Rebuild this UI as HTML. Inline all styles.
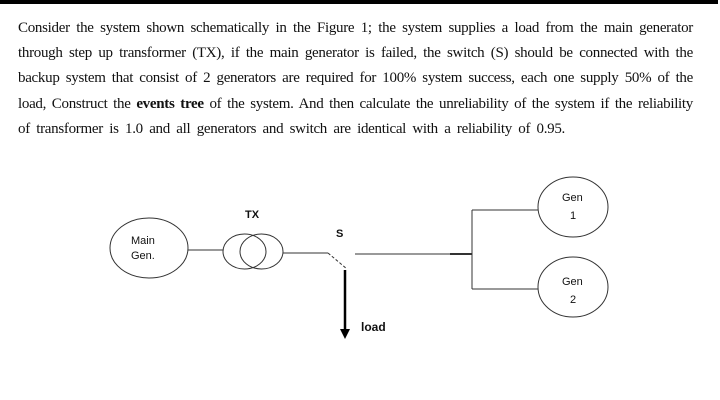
<!DOCTYPE html>
<html><head><style>
body{margin:0;width:720px;height:400px;background:#fff;position:relative;overflow:hidden}
.bar{position:absolute;left:0;top:0;width:718px;height:4px;background:#000}
.l{position:absolute;left:18px;width:675px;font-family:"Liberation Serif",serif;font-size:15px;letter-spacing:-0.3px;color:#111;text-align:justify;text-align-last:justify;white-space:nowrap;line-height:18px}
.s{position:absolute;font-family:"Liberation Sans",sans-serif;font-size:11px;color:#111}
</style></head><body>
<div class="bar"></div>
<div class="l" style="top:19px">Consider the system shown schematically in the Figure 1; the system supplies a load from the main generator</div>
<div class="l" style="top:44px">through step up transformer (TX), if the main generator is failed, the switch (S) should be connected with the</div>
<div class="l" style="top:69px">backup system that consist of 2 generators are required for 100% system success, each one supply 50% of the</div>
<div class="l" style="top:95px">load, Construct the <b>events tree</b> of the system. And then calculate the unreliability of the system if the reliability</div>
<div class="l" style="top:120px;width:547px">of transformer is 1.0 and all generators and switch are identical with a reliability of 0.95.</div>
<svg width="720" height="400" style="position:absolute;left:0;top:0" fill="none" stroke="#333" stroke-width="1">
<ellipse cx="149" cy="248" rx="39" ry="30"/>
<line x1="188" y1="250" x2="223" y2="250"/>
<ellipse cx="244.5" cy="251.5" rx="21.5" ry="17.5"/>
<ellipse cx="261.5" cy="251.5" rx="21.5" ry="17.5"/>
<line x1="283" y1="253" x2="328" y2="253"/>
<line x1="328" y1="253" x2="347" y2="269" stroke-dasharray="3,2"/>
<line x1="345" y1="270" x2="345" y2="330" stroke="#000" stroke-width="2.5"/>
<polygon points="340,329 350,329 345,339" fill="#000" stroke="none"/>
<line x1="355" y1="254" x2="450" y2="254"/>
<line x1="450" y1="254" x2="472" y2="254" stroke-width="2"/>
<line x1="472" y1="210" x2="472" y2="289"/>
<line x1="472" y1="210" x2="538" y2="210"/>
<line x1="472" y1="289" x2="538" y2="289"/>
<ellipse cx="573" cy="207" rx="35" ry="30"/>
<ellipse cx="573" cy="287" rx="35" ry="30"/>
</svg>
<div class="s" style="left:131px;top:235px">Main</div>
<div class="s" style="left:131px;top:250px">Gen.</div>
<div class="s" style="left:245px;top:209px;font-weight:bold">TX</div>
<div class="s" style="left:336px;top:228px;font-weight:bold">S</div>
<div class="s" style="left:361px;top:320px;font-weight:bold;font-size:12px">load</div>
<div class="s" style="left:562px;top:192px">Gen</div>
<div class="s" style="left:570px;top:210px">1</div>
<div class="s" style="left:562px;top:276px">Gen</div>
<div class="s" style="left:570px;top:294px">2</div>
</body></html>
